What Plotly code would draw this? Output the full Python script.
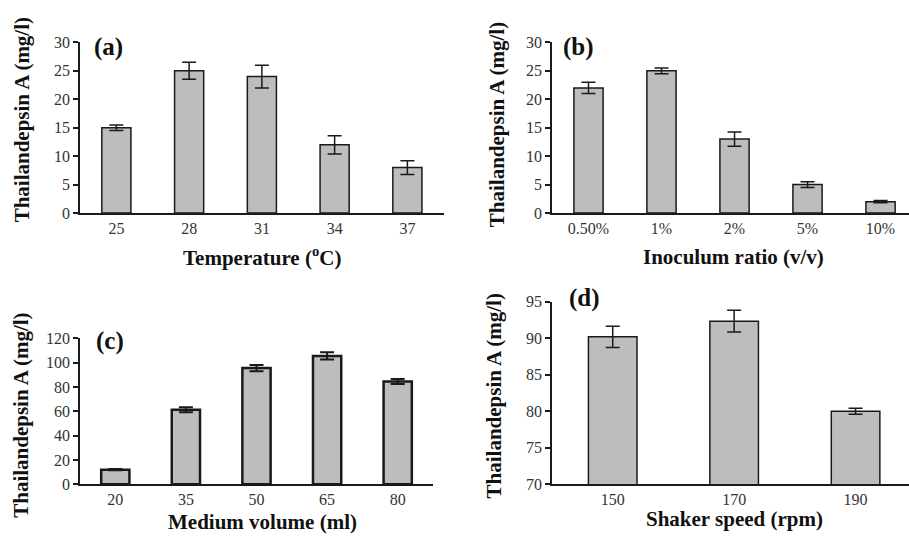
import plotly.graph_objects as go

W, H = 909, 542

# ---- data ----
temp_cats = ["25", "28", "31", "34", "37"]
temp_vals = [15, 25, 24, 12, 8]
temp_err = [0.5, 1.5, 2.0, 1.6, 1.2]

inoc_cats = ["0.50%", "1%", "2%", "5%", "10%"]
inoc_vals = [22, 25, 13, 5, 2]
inoc_err = [1.0, 0.5, 1.25, 0.5, 0.2]

vol_cats = ["20", "35", "50", "65", "80"]
vol_vals = [12, 61.3, 95.5, 105.5, 84.5]
vol_err = [0.5, 2.0, 2.5, 3.0, 2.0]

speed_cats = ["150", "170", "190"]
speed_vals = [90.2, 92.35, 80.0]
speed_err = [1.45, 1.5, 0.4]

panels = [
    dict(cats=temp_cats, vals=temp_vals, err=temp_err, label="(a)",
         xtitle="Temperature (<sup>o</sup>C)", yrange=[0, 30], dtick=5,
         xpx=(80, 443.75), ypx=(35.5, 211.7), xr=[-0.5, 4.5], lw=1.5, et=1.5),
    dict(cats=inoc_cats, vals=inoc_vals, err=inoc_err, label="(b)",
         xtitle="Inoculum ratio (v/v)", yrange=[0, 30], dtick=5,
         xpx=(552, 909), ypx=(35.5, 211.7), xr=[-0.5, 4.39], lw=1.5, et=1.5),
    dict(cats=vol_cats, vals=vol_vals, err=vol_err, label="(c)",
         xtitle="Medium volume (ml)", yrange=[0, 120], dtick=20,
         xpx=(80, 433), ypx=(341, 491.7), xr=[-0.5, 4.5], lw=2.5, et=2.0),
    dict(cats=speed_cats, vals=speed_vals, err=speed_err, label="(d)",
         xtitle="Shaker speed (rpm)", yrange=[70, 95], dtick=5,
         xpx=(552, 909), ypx=(303.3, 491.7), xr=[-0.5, 2.44], lw=1.5, et=1.5),
]

# annotation positions (px)
label_pos = [(108, 40), (578, 40), (110, 344), (584, 299)]
ytitle_pos = [(22, 116), (497, 121), (21, 421), (494, 400)]
xtitle_pos = [(262, 257), (733, 257), (262, 531), (734, 528)]

fig = go.Figure()
serif = "Liberation Serif, Times New Roman, Times, serif"
layout = dict(
    width=W, height=H, margin=dict(l=0, r=0, t=0, b=0),
    paper_bgcolor="white", plot_bgcolor="white", showlegend=False,
    bargap=0.6, annotations=[],
    font=dict(family=serif, size=16, color="#333"),
)

for i, p in enumerate(panels):
    n = "" if i == 0 else str(i + 1)
    fig.add_trace(go.Bar(
        x=p["cats"], y=p["vals"], xaxis="x" + n, yaxis="y" + n,
        marker=dict(color="#bdbdbd", line=dict(color="#1a1a1a", width=p["lw"])),
        error_y=dict(type="data", array=p["err"], visible=True,
                     color="#1a1a1a", thickness=p["et"], width=7),
    ))
    x0, x1 = p["xpx"]
    yt, yb = p["ypx"]
    layout["xaxis" + n] = dict(
        domain=[x0 / W, min(x1 / W, 1.0)], anchor="y" + n, type="category",
        range=p["xr"], showline=True, linecolor="#1a1a1a", linewidth=1.5,
        ticks="", showgrid=False, zeroline=False,
        tickfont=dict(family=serif, size=16, color="#333"),
    )
    layout["yaxis" + n] = dict(
        domain=[1 - yb / H, 1 - yt / H], anchor="x" + n,
        range=p["yrange"], dtick=p["dtick"], tick0=0,
        showline=True, linecolor="#1a1a1a", linewidth=1.5,
        ticks="outside", ticklen=5, tickwidth=1.5, tickcolor="#1a1a1a",
        showgrid=False, zeroline=False,
        tickfont=dict(family=serif, size=16, color="#333"),
    )
    lx, ly = label_pos[i]
    layout["annotations"].append(dict(
        text="<b>%s</b>" % p["label"], xref="paper", yref="paper",
        x=lx / W, y=1 - ly / H, xanchor="center", yanchor="middle",
        showarrow=False, font=dict(family=serif, size=25, color="#111")))
    tx, ty = ytitle_pos[i]
    layout["annotations"].append(dict(
        text="<b>Thailandepsin A (mg/l)</b>", xref="paper", yref="paper",
        x=tx / W, y=1 - ty / H, xanchor="center", yanchor="middle",
        textangle=-90, showarrow=False,
        font=dict(family=serif, size=21, color="#111")))
    bx, by = xtitle_pos[i]
    layout["annotations"].append(dict(
        text="<b>%s</b>" % p["xtitle"], xref="paper", yref="paper",
        x=bx / W, y=1 - by / H, xanchor="center", yanchor="middle",
        showarrow=False, font=dict(family=serif, size=21, color="#111")))

fig.update_layout(**layout)
fig.write_html("out.html")
